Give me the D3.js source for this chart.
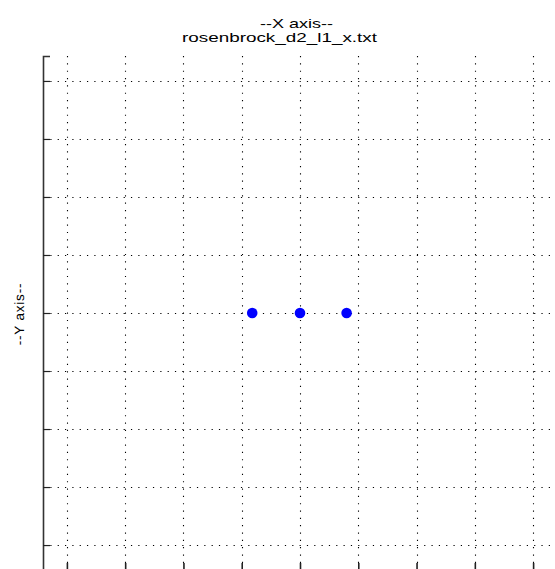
<!DOCTYPE html>
<html lang="en">
<head>
    <meta charset="utf-8">
    <title>rosenbrock_d2_l1_x</title>
    <script src="https://cdn.jsdelivr.net/npm/d3@7"></script>
    <style type="text/css">
        body { margin: 0; background: #fff; }
        text { font-family: "Liberation Sans", Arial, Helvetica, sans-serif; fill: #000; }
        .grid line { stroke: #000; stroke-width: 1.1; stroke-dasharray: 1.2, 6.13; }
    </style>
</head>
<body>
    <div id="chart"></div>
    <script>
        // data
        var pointX = [-0.82, 0, 0.80];
        var pointY = [0, 0, 0];
        var xTicks = [-4, -3, -2, -1, 0, 1, 2, 3, 4];
        var yTicks = [-4, -3, -2, -1, 0, 1, 2, 3, 4];
        var titleLines = ["--X axis--", "rosenbrock_d2_l1_x.txt"];
        var yLabel = "--Y axis--";

        var width = 555, height = 569;
        var margin = { top: 56, left: 43, right: -2, bottom: -1 };

        var svg = d3.select("#chart")
            .append("svg")
            .attr("width", width)
            .attr("height", height);

        var x = d3.scaleLinear()
            .domain([-4.41, 4.41])
            .range([margin.left, width - margin.right]);

        var y = d3.scaleLinear()
            .domain([-4.43, 4.43])
            .range([height - margin.bottom, margin.top]);

        function px(v) { return Math.round(v) + 0.5; }

        //grid
        var grid = svg.append("g").attr("class", "grid");
        grid.selectAll(".vx")
            .data(xTicks)
            .enter()
            .append("line")
            .attr("x1", d => px(x(d)))
            .attr("x2", d => px(x(d)))
            .attr("y1", margin.top)
            .attr("y2", height - margin.bottom);
        grid.selectAll(".hy")
            .data(yTicks)
            .enter()
            .append("line")
            .attr("y1", d => px(y(d)))
            .attr("y2", d => px(y(d)))
            .attr("x1", margin.left)
            .attr("x2", width - margin.right);

        //axes, no tick labels
        var yAxis = d3.axisRight(y).tickValues(yTicks).tickSize(7).tickFormat("");
        svg.append("g")
            .attr("transform", "translate(" + margin.left + ",0)")
            .call(yAxis)
            .call(g => g.select(".domain").attr("stroke", "#333").attr("stroke-width", 1.6))
            .call(g => g.selectAll(".tick line").attr("stroke", "#222").attr("stroke-width", 1.2));

        var xAxis = d3.axisTop(x).tickValues(xTicks).tickSize(7).tickFormat("");
        svg.append("g")
            .attr("transform", "translate(0," + (height - margin.bottom) + ")")
            .call(xAxis)
            .call(g => g.select(".domain").remove())
            .call(g => g.selectAll(".tick line").attr("stroke", "#222").attr("stroke-width", 1.6));

        //points
        svg.selectAll("circle")
            .data(pointX)
            .enter()
            .append("circle")
            .attr("cx", d => x(d))
            .attr("cy", (d, i) => y(pointY[i]))
            .attr("r", 5.3)
            .attr("fill", "#0000ff");

        //title
        svg.append("text")
            .attr("x", 296.5)
            .attr("y", 27.5)
            .attr("text-anchor", "middle")
            .attr("font-size", 13.5)
            .attr("textLength", 73)
            .attr("lengthAdjust", "spacingAndGlyphs")
            .text(titleLines[0]);
        svg.append("text")
            .attr("x", 279.5)
            .attr("y", 42)
            .attr("text-anchor", "middle")
            .attr("font-size", 13.5)
            .attr("textLength", 195)
            .attr("lengthAdjust", "spacingAndGlyphs")
            .text(titleLines[1]);

        svg.append("text")
            .attr("transform", "translate(23.5,314) rotate(-90)")
            .attr("text-anchor", "middle")
            .attr("font-size", 13.5)
            .attr("fill", "#000")
            .attr("letter-spacing", 0.8)
            .style("text-rendering", "geometricPrecision")
            .text(yLabel);
    </script>
</body>
</html>
